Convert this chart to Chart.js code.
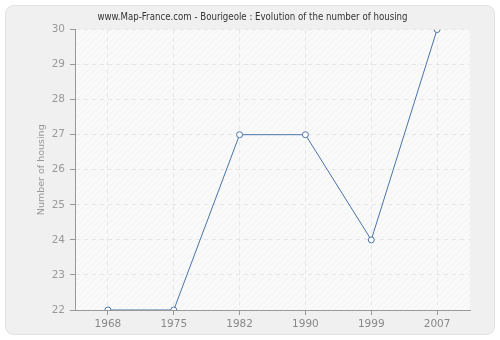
<!DOCTYPE html>
<html>
<head>
<meta charset="utf-8">
<script src="https://cdn.jsdelivr.net/npm/chart.js@4"></script>
<style>
  html, body { margin: 0; padding: 0; background: #fff; }
  #wrap { width: 500px; height: 340px; }
</style>
</head>
<body>
<div id="wrap"><canvas id="chart"></canvas></div>
<script>
const years = ['1968', '1975', '1982', '1990', '1999', '2007'];
const housing = [22, 22, 27, 27, 24, 30];
const yTicks = [22, 23, 24, 25, 26, 27, 28, 29, 30];

// panel background + hatched plot area
const backdrop = {
    id: 'backdrop',
    beforeDraw(chart) {
        const ctx = chart.ctx;
        const a = chart.chartArea;
        ctx.save();
        ctx.fillStyle = '#fff';
        ctx.fillRect(0, 0, chart.width, chart.height);
        ctx.beginPath();
        ctx.roundRect(5.5, 5.5, chart.width - 11, chart.height - 11, 8);
        ctx.fillStyle = '#f0f0f0';
        ctx.fill();
        ctx.strokeStyle = '#e2e2e2';
        ctx.stroke();
        ctx.fillStyle = '#fafafa';
        ctx.fillRect(a.left, a.top, a.right - a.left, a.bottom - a.top);
        ctx.beginPath();
        ctx.rect(a.left, a.top, a.right - a.left, a.bottom - a.top);
        ctx.clip();
        ctx.strokeStyle = '#f1f1f1';
        ctx.lineWidth = 1;
        for (let x = a.left - (a.bottom - a.top); x < a.right; x += 6) {
            ctx.beginPath();
            ctx.moveTo(x, a.bottom);
            ctx.lineTo(x + (a.bottom - a.top), a.top);
            ctx.stroke();
        }
        ctx.restore();
    }
};

new Chart(document.getElementById('chart'), {
    type: 'line',
    data: {
        labels: years,
        datasets: [{
            data: housing,
            borderColor: '#4a74a8',
            borderWidth: 1,
            backgroundColor: '#fff',
            pointBackgroundColor: '#fff',
            pointBorderColor: '#4a74a8',
            pointBorderWidth: 1,
            pointRadius: 3,
            tension: 0
        }]
    },
    options: {
        responsive: true,
        maintainAspectRatio: false,
        animation: false,
        layout: { padding: { left: 35, right: 30, top: 0, bottom: 0 } },
        plugins: {
            legend: { display: false },
            tooltip: { enabled: false },
            title: {
                display: true,
                text: 'www.Map-France.com - Bourigeole : Evolution of the number of housing',
                color: '#333',
                font: { family: 'DejaVu Sans Condensed', size: 9.6, weight: 'normal' },
                padding: { top: 12, bottom: 6 }
            }
        },
        scales: {
            x: {
                offset: true,
                afterFit(s) { s.height = 30; },
                grid: {
                    color: '#e6e6e6',
                    tickColor: '#999',
                    tickLength: 5,
                    offset: false
                },
                border: { color: '#999', dash: [4, 4] },
                ticks: { color: '#888', font: { family: 'DejaVu Sans', size: 10.5 }, padding: 3 }
            },
            y: {
                min: 22,
                max: 30,
                afterFit(s) { s.width = 40; },
                afterBuildTicks(s) { s.ticks = yTicks.map(v => ({ value: v })); },
                grid: { color: '#e6e6e6', tickColor: '#999', tickLength: 5 },
                border: { color: '#999', dash: [4, 4] },
                ticks: { color: '#999', font: { family: 'DejaVu Sans', size: 10.5 }, padding: 5 },
                title: {
                    display: true,
                    text: 'Number of housing',
                    color: '#999',
                    font: { family: 'DejaVu Sans', size: 9.5 },
                    padding: { top: 1, bottom: 0 }
                }
            }
        }
    },
    plugins: [backdrop]
});
</script>
</body>
</html>
